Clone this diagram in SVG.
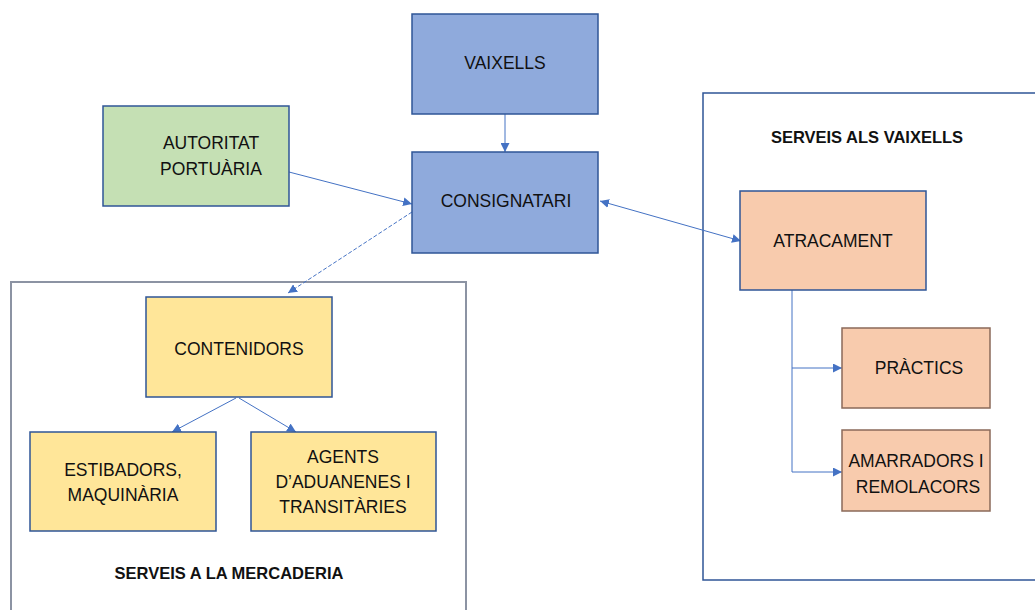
<svg xmlns="http://www.w3.org/2000/svg" width="1035" height="610" viewBox="0 0 1035 610">
<style>
text{font-family:"Liberation Sans",Arial,sans-serif;font-size:17.5px;fill:#111;text-anchor:middle;dominant-baseline:central}
.title{font-weight:bold;font-size:16.5px}
.blue{fill:#8faadc;stroke:#2f5597;stroke-width:1.5}
.green{fill:#c5e0b4;stroke:#2f5597;stroke-width:1.5}
.yellow{fill:#ffe699;stroke:#2f5597;stroke-width:1.5}
.orange{fill:#f8cbad;stroke:#2f5597;stroke-width:1.5}
.orange2{fill:#f8cbad;stroke:#8a6a5a;stroke-width:1.5}
.cont{fill:none;stroke:#2f5597;stroke-width:1.5}
.cont2{fill:none;stroke:#8c93a3;stroke-width:2}
.conn{fill:none;stroke:#4472c4;stroke-width:1}
</style>
<defs>
<marker id="arr" viewBox="0 0 10 10" refX="10" refY="5" markerWidth="9" markerHeight="9" markerUnits="userSpaceOnUse" orient="auto-start-reverse">
<path d="M0,0 L10,5 L0,10 z" fill="#4472c4"/>
</marker>
</defs>
<rect width="1035" height="610" fill="#fff"/>
<g id="serveis-vaixells">
<rect class="cont" x="703" y="93" width="340" height="487"/>
<text class="title" x="867" y="137">SERVEIS ALS VAIXELLS</text>
</g>
<g id="serveis-mercaderia">
<rect class="cont2" x="11" y="282" width="455" height="340"/>
<text class="title" x="229" y="573">SERVEIS A LA MERCADERIA</text>
</g>
<g id="connectors">
<line class="conn" x1="505" y1="114" x2="505" y2="152" marker-end="url(#arr)"/>
<line class="conn" x1="289" y1="172" x2="412" y2="204" marker-end="url(#arr)"/>
<line class="conn" x1="412" y1="212" x2="288" y2="293" stroke-width="2.5" stroke-dasharray="4 2" stroke="#9fb6e0" marker-end="url(#arr)"/>
<line class="conn" x1="600" y1="201" x2="741" y2="241" marker-start="url(#arr)" marker-end="url(#arr)"/>
<line class="conn" x1="236" y1="398" x2="172" y2="432" marker-end="url(#arr)"/>
<line class="conn" x1="239" y1="398" x2="296" y2="432" marker-end="url(#arr)"/>
<polyline class="conn" points="792,290 792,472 842,472" marker-end="url(#arr)"/>
<polyline class="conn" points="792,368 842,368" marker-end="url(#arr)"/>
</g>
<g id="vaixells">
<rect class="blue" x="412" y="14" width="186" height="100"/>
<text x="505" y="63">VAIXELLS</text>
</g>
<g id="consignatari">
<rect class="blue" x="412" y="152" width="186" height="101"/>
<text x="506" y="201">CONSIGNATARI</text>
</g>
<g id="autoritat">
<rect class="green" x="103" y="106" width="186" height="100"/>
<text x="211" y="143">AUTORITAT</text>
<text x="211" y="169">PORTUÀRIA</text>
</g>
<g id="atracament">
<rect class="orange" x="740" y="191" width="186" height="99"/>
<text x="833" y="241">ATRACAMENT</text>
</g>
<g id="practics">
<rect class="orange2" x="842" y="328" width="148" height="80"/>
<text x="919" y="368">PRÀCTICS</text>
</g>
<g id="amarradors">
<rect class="orange2" x="842" y="430" width="148" height="81"/>
<text x="916" y="461">AMARRADORS I</text>
<text x="918" y="487">REMOLACORS</text>
</g>
<g id="contenidors">
<rect class="yellow" x="146" y="297" width="186" height="100"/>
<text x="239" y="349">CONTENIDORS</text>
</g>
<g id="estibadors">
<rect class="yellow" x="30" y="432" width="186" height="99"/>
<text x="123" y="470">ESTIBADORS,</text>
<text x="123" y="495">MAQUINÀRIA</text>
</g>
<g id="agents">
<rect class="yellow" x="251" y="432" width="185" height="99"/>
<text x="343" y="457">AGENTS</text>
<text x="343" y="482">D’ADUANENES I</text>
<text x="343" y="507">TRANSITÀRIES</text>
</g>
</svg>
